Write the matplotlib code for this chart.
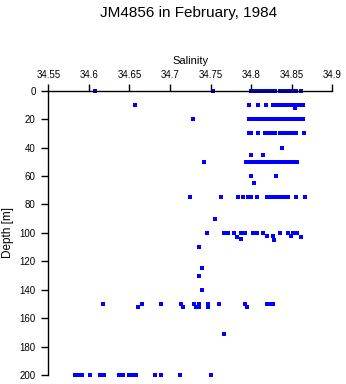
import matplotlib
matplotlib.use("Agg")
import matplotlib.pyplot as plt

plt.rcParams['font.family'] = ['Liberation Sans', 'DejaVu Sans']

TITLE = "JM4856 in February, 1984"

# salinity readings, grouped by sampling depth (m)
sal_0 = [34.607, 34.753, 34.800, 34.805, 34.810, 34.815, 34.820, 34.825,
         34.830, 34.835, 34.840, 34.845, 34.850, 34.855, 34.862]
sal_10 = [34.657, 34.797, 34.808, 34.818, 34.827, 34.832, 34.836, 34.840,
          34.844, 34.848, 34.852, 34.856, 34.860, 34.864]
sal_12 = [34.854]
sal_20 = [34.728, 34.797, 34.802, 34.807, 34.810, 34.815, 34.820, 34.825,
          34.828, 34.832, 34.836, 34.840, 34.844, 34.848, 34.852, 34.856,
          34.860, 34.864]
sal_30 = [34.797, 34.800, 34.808, 34.817, 34.821, 34.826, 34.830, 34.836,
          34.840, 34.845, 34.850, 34.855, 34.865]
sal_40 = [34.838]
sal_45 = [34.800, 34.815]
sal_50 = [34.742, 34.794, 34.797, 34.800, 34.804, 34.808, 34.812, 34.815,
          34.820, 34.824, 34.828, 34.832, 34.836, 34.840, 34.844, 34.848,
          34.852, 34.856]
sal_60 = [34.800, 34.831]
sal_65 = [34.803]
sal_75 = [34.725, 34.763, 34.784, 34.790, 34.796, 34.800, 34.807, 34.819,
          34.822, 34.825, 34.828, 34.832, 34.836, 34.840, 34.845, 34.855,
          34.866]
sal_90 = [34.755]
sal_100 = [34.745, 34.767, 34.772, 34.779, 34.787, 34.792, 34.802, 34.807,
           34.815, 34.835, 34.845, 34.852, 34.857]
sal_102 = [34.819, 34.827, 34.849]
sal_103 = [34.783, 34.862]
sal_104 = [34.787]
sal_105 = [34.828]
sal_110 = [34.736]
sal_125 = [34.740]
sal_130 = [34.736]
sal_140 = [34.740]
sal_150 = [34.618, 34.666, 34.689, 34.713, 34.729, 34.736, 34.747, 34.760,
           34.792, 34.819, 34.822, 34.825, 34.827]
sal_152 = [34.661, 34.716, 34.732, 34.736, 34.747, 34.795]
sal_171 = [34.766]
sal_200 = [34.583, 34.588, 34.591, 34.601, 34.614, 34.619, 34.637, 34.642,
           34.649, 34.654, 34.658, 34.681, 34.689, 34.712, 34.751]

levels = [
    (0, sal_0), (10, sal_10), (12, sal_12), (20, sal_20), (30, sal_30),
    (40, sal_40), (45, sal_45), (50, sal_50), (60, sal_60), (65, sal_65),
    (75, sal_75), (90, sal_90), (100, sal_100), (102, sal_102),
    (103, sal_103), (104, sal_104), (105, sal_105), (110, sal_110),
    (125, sal_125), (130, sal_130), (140, sal_140), (150, sal_150),
    (152, sal_152), (171, sal_171), (200, sal_200),
]

xticks = [34.55, 34.6, 34.65, 34.7, 34.75, 34.8, 34.85, 34.9]
xtick_labels = ['34.55', '34.6', '34.65', '34.7', '34.75', '34.8', '34.85', '34.9']
yticks = list(range(0, 201, 20))

fig = plt.figure(figsize=(3.46, 3.84), dpi=100)
ax = fig.add_axes([0.1396, 0.0234, 0.8208, 0.7404])

salinity = []
depth = []
for d, vals in levels:
    salinity += vals
    depth += [d] * len(vals)

ax.plot(salinity, depth, linestyle='none', marker='s', markersize=2.3,
        color='#0000ff', markeredgewidth=0, antialiased=False, clip_on=False)

ax.set_xlim(34.55, 34.9)
ax.set_ylim(200, 0)
ax.xaxis.set_ticks_position('top')
ax.xaxis.set_label_position('top')
ax.set_xticks(xticks, xtick_labels)
ax.set_yticks(yticks)
ax.tick_params(axis='both', direction='out', length=5, width=1, labelsize=7,
               colors='black')
ax.tick_params(axis='x', pad=2.5)
ax.tick_params(axis='y', pad=4)
for side in ('right', 'bottom'):
    ax.spines[side].set_visible(False)
for side in ('left', 'top'):
    ax.spines[side].set_linewidth(1)

ax.set_xlabel('Salinity', fontsize=8, labelpad=4.5)
ax.set_ylabel('Depth [m]', fontsize=8.5, labelpad=4)
fig.text(0.545, 0.966, TITLE, ha='center', va='center', fontsize=11)

fig.savefig('out.png', dpi=100)
